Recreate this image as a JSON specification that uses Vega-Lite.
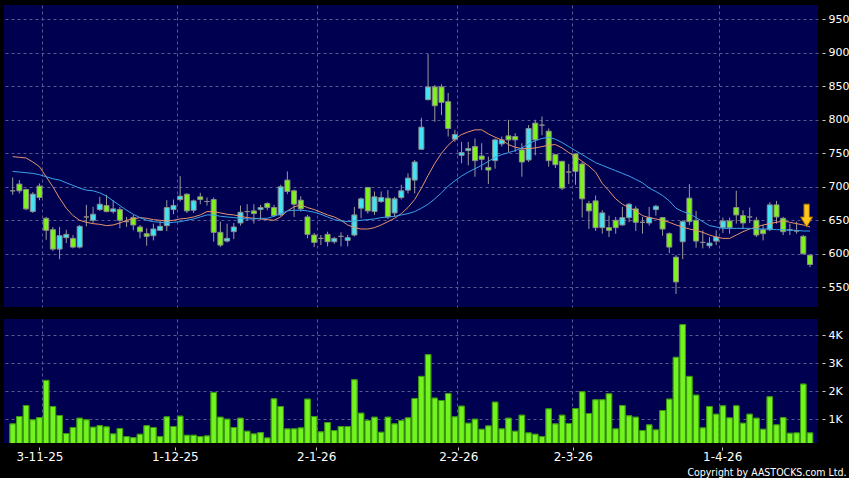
{
"$schema":"https://vega.github.io/schema/vega-lite/v6.json",
"background":"#000000",
"padding":{"left":4,"top":5,"right":0,"bottom":0},
"spacing":12,
"config":{"view":{"fill":"#000050","stroke":null},
"axis":{"labelFont":"DejaVu Sans","labelColor":"#ffffff","tickColor":"#cccccc","domain":false,"gridColor":"#5a5a90","gridDash":[3,3],"gridWidth":1,"labelOverlap":false}},
"datasets":{
"d":[
{"i":0,"o":694,"h":714,"l":688,"c":694,"v":837,"m1":745,"m2":723},
{"i":1,"o":704,"h":710,"l":690,"c":694,"v":1099,"m1":744,"m2":722},
{"i":2,"o":696,"h":697,"l":665,"c":667,"v":1492,"m1":743,"m2":721},
{"i":3,"o":663,"h":692,"l":661,"c":689,"v":980,"m1":737,"m2":720},
{"i":4,"o":701,"h":705,"l":680,"c":684,"v":1063,"m1":730,"m2":718},
{"i":5,"o":653,"h":655,"l":621,"c":635,"v":2385,"m1":715,"m2":715},
{"i":6,"o":636,"h":640,"l":604,"c":607,"v":1456,"m1":700,"m2":712},
{"i":7,"o":607,"h":640,"l":592,"c":627,"v":1135,"m1":683,"m2":710},
{"i":8,"o":624,"h":636,"l":616,"c":629,"v":492,"m1":668,"m2":706},
{"i":9,"o":623,"h":628,"l":608,"c":610,"v":706,"m1":657,"m2":702},
{"i":10,"o":610,"h":643,"l":608,"c":641,"v":1039,"m1":650,"m2":698},
{"i":11,"o":655,"h":673,"l":641,"c":655,"v":980,"m1":647,"m2":695},
{"i":12,"o":650,"h":670,"l":646,"c":659,"v":718,"m1":645,"m2":694},
{"i":13,"o":666,"h":685,"l":664,"c":674,"v":777,"m1":644,"m2":691},
{"i":14,"o":672,"h":688,"l":662,"c":663,"v":730,"m1":642,"m2":686},
{"i":15,"o":663,"h":680,"l":660,"c":667,"v":480,"m1":643,"m2":679},
{"i":16,"o":666,"h":670,"l":638,"c":650,"v":670,"m1":646,"m2":672},
{"i":17,"o":648,"h":655,"l":640,"c":648,"v":385,"m1":650,"m2":665},
{"i":18,"o":654,"h":658,"l":635,"c":643,"v":349,"m1":652,"m2":659},
{"i":19,"o":640,"h":643,"l":623,"c":633,"v":468,"m1":654,"m2":654},
{"i":20,"o":630,"h":638,"l":612,"c":626,"v":777,"m1":653,"m2":650},
{"i":21,"o":627,"h":645,"l":620,"c":637,"v":706,"m1":651,"m2":648},
{"i":22,"o":635,"h":649,"l":634,"c":641,"v":385,"m1":650,"m2":647},
{"i":23,"o":642,"h":680,"l":634,"c":669,"v":1087,"m1":649,"m2":646},
{"i":24,"o":666,"h":681,"l":659,"c":672,"v":742,"m1":650,"m2":647},
{"i":25,"o":681,"h":716,"l":678,"c":686,"v":1111,"m1":652,"m2":648},
{"i":26,"o":689,"h":690,"l":661,"c":664,"v":432,"m1":653,"m2":650},
{"i":27,"o":665,"h":681,"l":661,"c":679,"v":432,"m1":655,"m2":652},
{"i":28,"o":685,"h":691,"l":674,"c":681,"v":385,"m1":658,"m2":655},
{"i":29,"o":678,"h":684,"l":672,"c":678,"v":408,"m1":663,"m2":658},
{"i":30,"o":681,"h":684,"l":618,"c":632,"v":1956,"m1":663,"m2":658},
{"i":31,"o":632,"h":648,"l":610,"c":613,"v":1075,"m1":661,"m2":656},
{"i":32,"o":619,"h":645,"l":617,"c":623,"v":1004,"m1":659,"m2":655},
{"i":33,"o":633,"h":646,"l":622,"c":640,"v":706,"m1":658,"m2":654},
{"i":34,"o":646,"h":672,"l":642,"c":662,"v":1039,"m1":656,"m2":653},
{"i":35,"o":663,"h":674,"l":650,"c":663,"v":575,"m1":654,"m2":652},
{"i":36,"o":664,"h":674,"l":645,"c":660,"v":480,"m1":653,"m2":652},
{"i":37,"o":666,"h":673,"l":651,"c":669,"v":527,"m1":652,"m2":653},
{"i":38,"o":675,"h":677,"l":665,"c":669,"v":337,"m1":651,"m2":653},
{"i":39,"o":669,"h":673,"l":655,"c":657,"v":1729,"m1":650,"m2":656},
{"i":40,"o":658,"h":703,"l":656,"c":700,"v":1456,"m1":655,"m2":660},
{"i":41,"o":710,"h":723,"l":689,"c":693,"v":659,"m1":664,"m2":664},
{"i":42,"o":694,"h":696,"l":655,"c":674,"v":659,"m1":670,"m2":665},
{"i":43,"o":680,"h":686,"l":663,"c":667,"v":694,"m1":673,"m2":665},
{"i":44,"o":655,"h":658,"l":623,"c":629,"v":1718,"m1":669,"m2":664},
{"i":45,"o":628,"h":631,"l":610,"c":617,"v":1099,"m1":666,"m2":662},
{"i":46,"o":623,"h":628,"l":613,"c":623,"v":552,"m1":662,"m2":659},
{"i":47,"o":629,"h":633,"l":611,"c":618,"v":885,"m1":658,"m2":655},
{"i":48,"o":618,"h":625,"l":615,"c":623,"v":599,"m1":655,"m2":651},
{"i":49,"o":626,"h":632,"l":611,"c":626,"v":742,"m1":650,"m2":649},
{"i":50,"o":620,"h":628,"l":611,"c":624,"v":742,"m1":643,"m2":648},
{"i":51,"o":628,"h":670,"l":626,"c":658,"v":2408,"m1":639,"m2":649},
{"i":52,"o":668,"h":684,"l":653,"c":682,"v":1218,"m1":637,"m2":650},
{"i":53,"o":699,"h":700,"l":660,"c":664,"v":956,"m1":637,"m2":651},
{"i":54,"o":663,"h":693,"l":658,"c":685,"v":1075,"m1":639,"m2":652},
{"i":55,"o":678,"h":693,"l":676,"c":684,"v":539,"m1":643,"m2":654},
{"i":56,"o":683,"h":695,"l":652,"c":655,"v":1075,"m1":648,"m2":655},
{"i":57,"o":661,"h":685,"l":655,"c":682,"v":837,"m1":653,"m2":656},
{"i":58,"o":684,"h":703,"l":681,"c":694,"v":956,"m1":660,"m2":658},
{"i":59,"o":695,"h":720,"l":690,"c":713,"v":1051,"m1":669,"m2":660},
{"i":60,"o":710,"h":740,"l":690,"c":737,"v":1742,"m1":681,"m2":663},
{"i":61,"o":756,"h":803,"l":755,"c":789,"v":2527,"m1":698,"m2":668},
{"i":62,"o":830,"h":898,"l":829,"c":849,"v":3301,"m1":717,"m2":674},
{"i":63,"o":849,"h":852,"l":797,"c":821,"v":1754,"m1":735,"m2":682},
{"i":64,"o":849,"h":853,"l":807,"c":826,"v":1670,"m1":750,"m2":691},
{"i":65,"o":827,"h":840,"l":775,"c":787,"v":1920,"m1":762,"m2":701},
{"i":66,"o":771,"h":785,"l":767,"c":778,"v":1087,"m1":771,"m2":709},
{"i":67,"o":747,"h":767,"l":735,"c":751,"v":1468,"m1":778,"m2":716},
{"i":68,"o":754,"h":767,"l":732,"c":757,"v":861,"m1":782,"m2":722},
{"i":69,"o":760,"h":772,"l":715,"c":739,"v":1004,"m1":785,"m2":727},
{"i":70,"o":746,"h":765,"l":725,"c":741,"v":646,"m1":785,"m2":732},
{"i":71,"o":729,"h":745,"l":704,"c":725,"v":765,"m1":779,"m2":738},
{"i":72,"o":739,"h":772,"l":727,"c":770,"v":1611,"m1":774,"m2":744},
{"i":73,"o":764,"h":775,"l":760,"c":770,"v":659,"m1":770,"m2":748},
{"i":74,"o":776,"h":800,"l":752,"c":770,"v":1039,"m1":763,"m2":751},
{"i":75,"o":775,"h":780,"l":752,"c":770,"v":575,"m1":759,"m2":754},
{"i":76,"o":755,"h":765,"l":715,"c":737,"v":1146,"m1":757,"m2":758},
{"i":77,"o":740,"h":792,"l":737,"c":787,"v":515,"m1":757,"m2":764},
{"i":78,"o":795,"h":800,"l":747,"c":770,"v":468,"m1":758,"m2":769},
{"i":79,"o":792,"h":805,"l":777,"c":792,"v":385,"m1":760,"m2":772},
{"i":80,"o":783,"h":787,"l":730,"c":739,"v":1373,"m1":762,"m2":774},
{"i":81,"o":748,"h":749,"l":728,"c":733,"v":837,"m1":763,"m2":771},
{"i":82,"o":738,"h":738,"l":695,"c":698,"v":1146,"m1":758,"m2":766},
{"i":83,"o":722,"h":734,"l":704,"c":722,"v":849,"m1":751,"m2":760},
{"i":84,"o":749,"h":750,"l":703,"c":723,"v":1385,"m1":745,"m2":754},
{"i":85,"o":734,"h":737,"l":654,"c":682,"v":1980,"m1":738,"m2":748},
{"i":86,"o":675,"h":679,"l":637,"c":664,"v":1206,"m1":731,"m2":742},
{"i":87,"o":679,"h":687,"l":634,"c":639,"v":1694,"m1":722,"m2":736},
{"i":88,"o":639,"h":665,"l":630,"c":661,"v":1694,"m1":705,"m2":732},
{"i":89,"o":639,"h":657,"l":625,"c":635,"v":1908,"m1":694,"m2":728},
{"i":90,"o":650,"h":655,"l":630,"c":639,"v":659,"m1":682,"m2":724},
{"i":91,"o":643,"h":670,"l":642,"c":654,"v":1492,"m1":674,"m2":720},
{"i":92,"o":654,"h":676,"l":647,"c":674,"v":1123,"m1":669,"m2":716},
{"i":93,"o":667,"h":671,"l":634,"c":647,"v":1075,"m1":664,"m2":711},
{"i":94,"o":647,"h":655,"l":630,"c":647,"v":599,"m1":657,"m2":706},
{"i":95,"o":646,"h":670,"l":642,"c":654,"v":801,"m1":654,"m2":698},
{"i":96,"o":666,"h":673,"l":657,"c":671,"v":623,"m1":652,"m2":693},
{"i":97,"o":654,"h":655,"l":627,"c":637,"v":1313,"m1":650,"m2":687},
{"i":98,"o":630,"h":632,"l":601,"c":610,"v":1718,"m1":647,"m2":679},
{"i":99,"o":595,"h":598,"l":540,"c":558,"v":3206,"m1":643,"m2":668},
{"i":100,"o":618,"h":650,"l":592,"c":648,"v":4373,"m1":640,"m2":663},
{"i":101,"o":683,"h":704,"l":643,"c":648,"v":2527,"m1":637,"m2":660},
{"i":102,"o":650,"h":664,"l":609,"c":619,"v":1860,"m1":635,"m2":654},
{"i":103,"o":617,"h":635,"l":608,"c":617,"v":694,"m1":632,"m2":648},
{"i":104,"o":612,"h":625,"l":608,"c":616,"v":1456,"m1":628,"m2":642},
{"i":105,"o":619,"h":635,"l":613,"c":625,"v":1182,"m1":625,"m2":640},
{"i":106,"o":639,"h":654,"l":631,"c":649,"v":1480,"m1":623,"m2":638},
{"i":107,"o":649,"h":654,"l":630,"c":639,"v":1051,"m1":623,"m2":638},
{"i":108,"o":669,"h":694,"l":645,"c":658,"v":1480,"m1":628,"m2":638},
{"i":109,"o":657,"h":665,"l":637,"c":646,"v":861,"m1":633,"m2":638},
{"i":110,"o":655,"h":669,"l":646,"c":655,"v":1182,"m1":637,"m2":638},
{"i":111,"o":650,"h":655,"l":625,"c":628,"v":1039,"m1":640,"m2":637},
{"i":112,"o":636,"h":643,"l":620,"c":630,"v":646,"m1":643,"m2":637},
{"i":113,"o":636,"h":677,"l":634,"c":673,"v":1801,"m1":645,"m2":637},
{"i":114,"o":673,"h":679,"l":645,"c":655,"v":801,"m1":647,"m2":636},
{"i":115,"o":653,"h":655,"l":628,"c":633,"v":1063,"m1":649,"m2":636},
{"i":116,"o":636,"h":645,"l":628,"c":636,"v":504,"m1":647,"m2":635},
{"i":117,"o":634,"h":648,"l":630,"c":634,"v":515,"m1":645,"m2":635},
{"i":118,"o":626,"h":628,"l":599,"c":600,"v":2253,"m1":643,"m2":634},
{"i":119,"o":598,"h":599,"l":580,"c":584,"v":515,"m1":640,"m2":634}
],
"arrow":[{"i":118.5,"p":657}]
},
"vconcat":[
{"width":814,"height":302,"data":{"name":"d"},
"layer":[
{"mark":{"type":"rule","strokeWidth":1,"color":"#9a9a9a"},
"encoding":{
"x":{"field":"i","type":"quantitative","scale":{"domain":[-0.55,119.45],"nice":false,"zero":false},
"axis":{"title":null,"values":[4.44,24.49,45.49,66.37,83.47,105.44],"tickCount":30,"grid":true,"labels":false,"ticks":false}},
"y":{"field":"l","type":"quantitative","scale":{"domain":[520.6,971.3],"nice":false,"zero":false},
"axis":{"title":null,"orient":"right","values":[550,600,650,700,750,800,850,900,950],"tickCount":30,"grid":true,"tickSize":3,"offset":4,"labelPadding":3,"labelFontSize":11,"labelOverlap":false,"labelBound":false,"labelFlush":false}},
"y2":{"field":"h"}}},
{"mark":{"type":"bar","size":5,"stroke":"#8c8c8c","strokeWidth":1},
"encoding":{
"x":{"field":"i","type":"quantitative"},
"y":{"field":"o","type":"quantitative"},
"y2":{"field":"c"},
"fill":{"condition":[{"test":"datum.c > datum.o","value":"#40e4f4"},{"test":"datum.c < datum.o","value":"#7ff21e"}],"value":"#9a9a9a"}}},
{"mark":{"type":"line","color":"#e8946a","strokeWidth":1},
"encoding":{"x":{"field":"i","type":"quantitative"},"y":{"field":"m1","type":"quantitative"}}},
{"mark":{"type":"line","color":"#3aa2ea","strokeWidth":1},
"encoding":{"x":{"field":"i","type":"quantitative"},"y":{"field":"m2","type":"quantitative"}}},
{"data":{"name":"arrow"},
"mark":{"type":"point","shape":"M-0.24,-1L0.24,-1L0.24,0.12L0.54,0.12L0,1L-0.54,0.12L-0.24,0.12Z","size":529,"filled":true,"fill":"#ffc61a","stroke":"#8a5a00","strokeWidth":1,"opacity":1,"fillOpacity":1},
"encoding":{"x":{"field":"i","type":"quantitative"},"y":{"field":"p","type":"quantitative"}}}
]},
{"width":814,"height":124,"data":{"name":"d"},
"layer":[
{"mark":{"type":"bar","size":5.5,"fill":"#74f41e","stroke":"#3a9414","strokeWidth":1,"clip":true},
"encoding":{
"x":{"field":"i","type":"quantitative","scale":{"domain":[-0.55,119.45],"nice":false,"zero":false},
"axis":{"title":null,"values":[4.44,24.49,45.49,66.37,83.47,105.44],"tickCount":30,"grid":true,"labels":false,"ticks":false}},
"y":{"field":"v","type":"quantitative","scale":{"domain":[157,4570],"nice":false,"zero":false},
"axis":{"title":null,"orient":"right","values":[1000,2000,3000,4000],"tickCount":30,"labelExpr":"(datum.value/1000)+'K'","grid":true,"tickSize":3,"offset":4,"labelPadding":3,"labelFontSize":11,"labelOverlap":false}}}},
{"mark":{"type":"bar","size":5.5,"fill":"#74f41e","stroke":"#3a9414","strokeWidth":1,"clip":true},
"encoding":{
"x":{"field":"i","type":"quantitative",
"axis":{"orient":"bottom","values":[4,24.2,45.3,66.5,83.6,105.9],"tickCount":30,"labelExpr":"datum.value < 10 ? '3-11-25' : datum.value < 30 ? '1-12-25' : datum.value < 50 ? '2-1-26' : datum.value < 70 ? '2-2-26' : datum.value < 90 ? '2-3-26' : '1-4-26'","grid":false,"tickSize":3,"offset":4,"labelPadding":1,"labelFontSize":12,
"title":"Copyright by AASTOCKS.com Ltd.","titleFont":"DejaVu Sans Condensed","titleFontSize":10.5,"titleFontWeight":"normal","titleColor":"#ffffff","titleAlign":"right","titleAnchor":"end","titleBaseline":"alphabetic","titleX":842,"titleY":28}},
"y":{"field":"v","type":"quantitative"}}}
],
"resolve":{"axis":{"x":"independent"}}}
]
}
